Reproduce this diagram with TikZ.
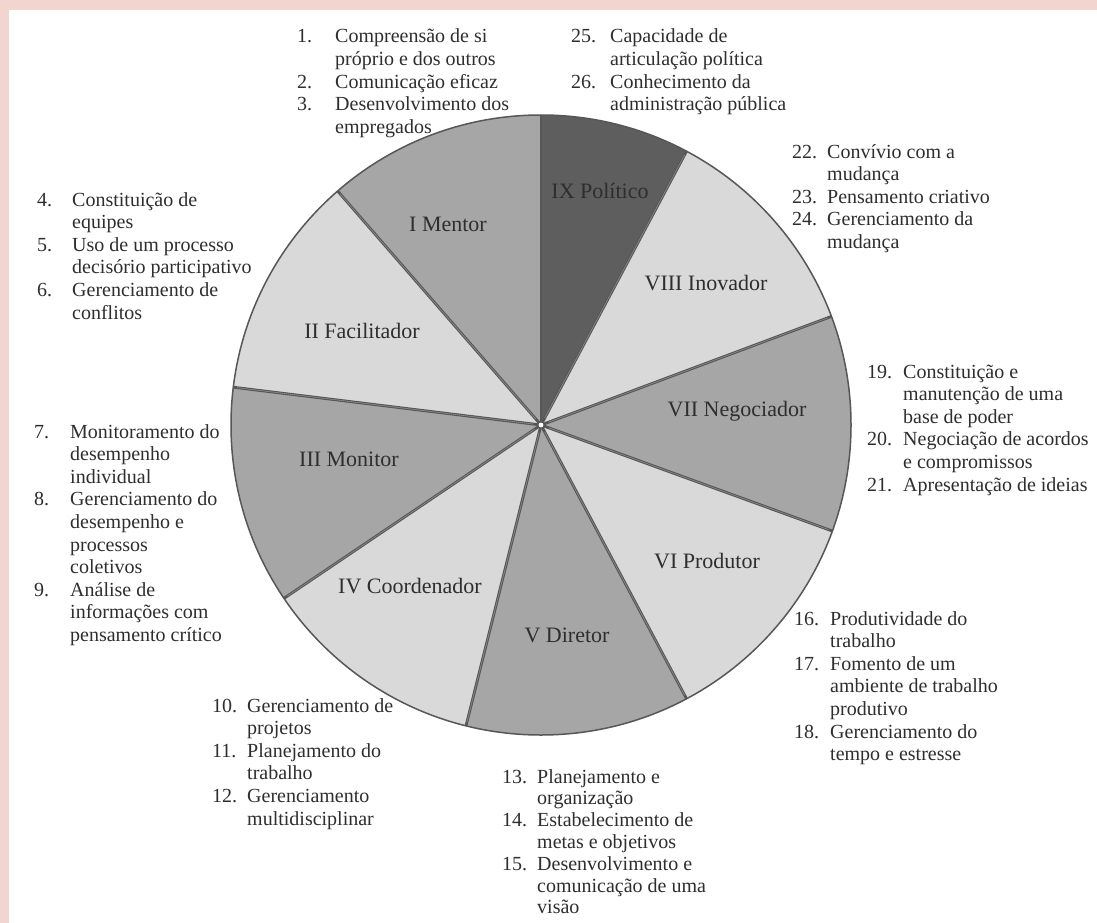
\documentclass[tikz,border=0pt]{standalone}
\usepackage{fontspec}
\setmainfont{Liberation Serif}
\usetikzlibrary{calc}
\definecolor{pinkbg}{HTML}{F2D5CE}
\definecolor{dk}{HTML}{5E5E5E}
\definecolor{md}{HTML}{A6A6A6}
\definecolor{lt}{HTML}{D9D9D9}
\definecolor{edgecol}{HTML}{575757}
\definecolor{edgemid}{HTML}{8C8C8C}
\definecolor{txt}{HTML}{2E2E2E}
\newcommand{\mylist}[2]{\begin{tabular}[t]{@{}p{#1}@{}l@{}}#2\end{tabular}}
\tikzset{
  wedge/.style={fill=#1},
  rim/.style={draw=edgecol, line width=1.5pt},
  spoke/.style={draw=edgecol, line width=2.8pt},
  spokemid/.style={draw=edgemid, line width=0.6pt},
  lab/.style={anchor=base, inner sep=0pt, text=txt, font=\fontsize{22}{26}\selectfont},
  lst/.style={anchor=base west, inner sep=0pt, text=txt, font=\fontsize{20}{22.6}\selectfont},
}
\begin{document}
\begin{tikzpicture}[x=1pt,y=1pt]
\useasboundingbox (0,0) rectangle (1097,-923);
\fill[pinkbg] (0,0) rectangle (1097,-923);
\fill[white] (9,-10) rectangle (1097,-923);
\coordinate (C) at (541,-425);
% wedges
\foreach \a/\b/\c in {62/90/dk, 20.5/62/lt, -20/20.5/md, -62/-20/lt, -104/-62/md, -146/-104/lt, -187/-146/md, 131/173/lt, 90/131/md}
  \fill[wedge=\c] (C) -- ++(\a:310) arc[start angle=\a, end angle=\b, radius=310] -- cycle;
\draw[rim] (C) circle (310);
\foreach \a in {90,62,20.5,-20,-62,-104,-146,-187,131}
  \draw[spoke] (C) -- ++(\a:310);
\foreach \a in {62,20.5,-20,-62,-104,-146,-187,131}
  \draw[spokemid] ($(C)+(\a:8)$) -- ($(C)+(\a:306)$);
\fill[white] (C) circle (2.4);
% sector labels
\node[lab] (l9) at (600,-198) {IX Político};
\node[lab] (l1) at (448,-231) {I Mentor};
\node[lab] (l2) at (362,-338) {II Facilitador};
\node[lab] (l3) at (349,-466) {III Monitor};
\node[lab] (l4) at (410,-593) {IV Coordenador};
\node[lab] (l5) at (567,-642) {V Diretor};
\node[lab] (l6) at (707,-568) {VI Produtor};
\node[lab] (l7) at (737,-416) {VII Negociador};
\node[lab] (l8) at (706,-290) {VIII Inovador};
% lists
\node[lst] (t1) at (297,-43) {\mylist{38pt}{1. & Compreensão de si\\ & próprio e dos outros\\ 2. & Comunicação eficaz\\ 3. & Desenvolvimento dos\\ & empregados}};
\node[lst] (t25) at (571,-43) {\mylist{39pt}{25. & Capacidade de\\ & articulação política\\ 26. & Conhecimento da\\ & administração pública}};
\node[lst] (t22) at (792,-158) {\mylist{35pt}{22. & Convívio com a\\ & mudança\\ 23. & Pensamento criativo\\ 24. & Gerenciamento da\\ & mudança}};
\node[lst] (t19) at (867,-378) {\mylist{36pt}{19. & Constituição e\\ & manutenção de uma\\ & base de poder\\ 20. & Negociação de acordos\\ & e compromissos\\ 21. & Apresentação de ideias}};
\node[lst] (t16) at (794,-625) {\mylist{36pt}{16. & Produtividade do\\ & trabalho\\ 17. & Fomento de um\\ & ambiente de trabalho\\ & produtivo\\ 18. & Gerenciamento do\\ & tempo e estresse}};
\node[lst, font=\fontsize{20}{21.8}\selectfont] (t13) at (502,-783) {\mylist{35pt}{13. & Planejamento e\\ & organização\\ 14. & Estabelecimento de\\ & metas e objetivos\\ 15. & Desenvolvimento e\\ & comunicação de uma\\ & visão}};
\node[lst] (t10) at (212,-712) {\mylist{35pt}{10. & Gerenciamento de\\ & projetos\\ 11. & Planejamento do\\ & trabalho\\ 12. & Gerenciamento\\ & multidisciplinar}};
\node[lst] (t4) at (37,-206) {\mylist{35pt}{4. & Constituição de\\ & equipes\\ 5. & Uso de um processo\\ & decisório participativo\\ 6. & Gerenciamento de\\ & conflitos}};
\node[lst] (t7) at (34,-438) {\mylist{36pt}{7. & Monitoramento do\\ & desempenho\\ & individual\\ 8. & Gerenciamento do\\ & desempenho e\\ & processos\\ & coletivos\\ 9. & Análise de\\ & informações com\\ & pensamento crítico}};
\end{tikzpicture}
\end{document}
